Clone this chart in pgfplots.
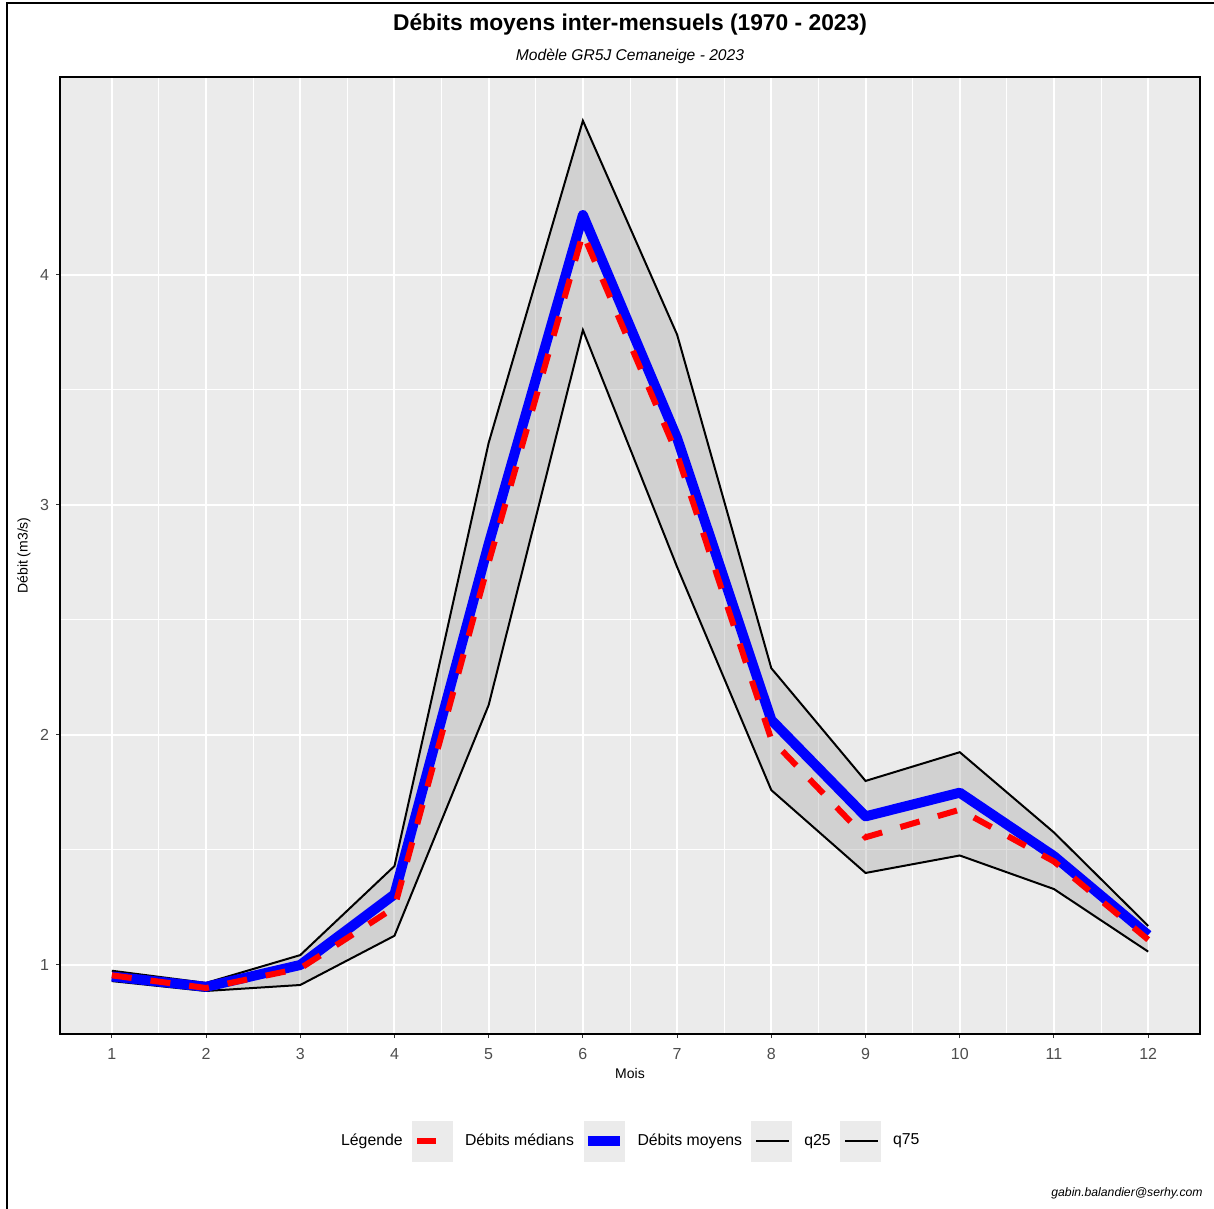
\documentclass[border=0pt]{standalone}
\usepackage{fontspec}
\setmainfont{Liberation Sans}
\usepackage{pgfplots}
\pgfplotsset{compat=1.18}
\usepgfplotslibrary{fillbetween}
\usepackage{pgfplotstable}

\definecolor{panelbg}{HTML}{EBEBEB}
\definecolor{labgrey}{HTML}{4D4D4D}
\definecolor{tickgrey}{HTML}{333333}
\definecolor{ribbongrey}{HTML}{969696}

% débits mensuels (m3/s)
\pgfplotstableread{
mois q25   q75   med   moy
1    0.930 0.975 0.955 0.950
2    0.887 0.922 0.900 0.905
3    0.913 1.043 0.985 1.000
4    1.127 1.430 1.250 1.307
5    2.130 3.270 2.750 2.830
6    3.760 4.670 4.180 4.260
7    2.730 3.740 3.220 3.290
8    1.760 2.290 1.980 2.065
9    1.400 1.800 1.555 1.646
10   1.476 1.925 1.675 1.749
11   1.330 1.576 1.450 1.473
12   1.058 1.170 1.110 1.130
}\debits

\begin{document}
\begin{tikzpicture}
\begin{axis}[
  at={(0,0)}, anchor=south west,
  scale only axis, width=570bp, height=478.5bp,
  xmin=0.45, xmax=12.55, ymin=0.70, ymax=4.86,
  xtick={1,...,12}, ytick={1,2,3,4},
  minor x tick num=1, minor y tick num=1,
  grid=both,
  major grid style={white, line width=1bp},
  minor grid style={white, line width=0.5bp},
  axis background/.style={fill=panelbg},
  axis line style={black, line width=1.4bp},
  tick align=outside, tick pos=left,
  major tick length=2bp, minor tick length=0pt,
  tick style={tickgrey, line width=0.5bp},
  ticklabel style={font=\fontsize{8bp}{9bp}\selectfont, text=labgrey},
  xticklabel style={yshift=-1.5bp},
  /pgf/number format/assume math mode=true,
  xlabel={Mois}, ylabel={Débit (m3/s)},
  every axis x label/.style={at={(axis description cs:0.5,-0.0408)}, anchor=center,
    font=\fontsize{7bp}{8bp}\selectfont},
  every axis y label/.style={at={(axis description cs:-0.0316,0.5)}, rotate=90, anchor=center,
    font=\fontsize{7bp}{8bp}\selectfont},
  legend style={at={(axis description cs:0.4965,-0.1118)}, anchor=center,
    draw=none, fill=none, legend columns=5,
    font=\fontsize{7.9bp}{9.6bp}\selectfont,
    /tikz/every odd column/.append style={column sep=4.3bp},
    /tikz/every even column/.append style={column sep=2.5bp}},
]
% ruban q25 - q75
\addplot[draw=none, name path=lo, forget plot] table[x=mois, y=q25] {\debits};
\addplot[draw=none, name path=hi, forget plot] table[x=mois, y=q75] {\debits};
\addplot[fill=ribbongrey, fill opacity=0.3, draw=none, forget plot] fill between[of=hi and lo];
\addplot[black, line width=1bp, forget plot] table[x=mois, y=q25] {\debits};
\addplot[black, line width=1bp, forget plot] table[x=mois, y=q75] {\debits};
\addplot[blue, line width=5bp, line join=round, forget plot] table[x=mois, y=moy] {\debits};
\addplot[red, line width=3bp, dash pattern=on 10bp off 9.5bp, forget plot] table[x=mois, y=med] {\debits};

% légende
\addlegendimage{empty legend}
\addlegendentry{Légende}
\addlegendimage{legend image code/.code={
  \fill[panelbg] (0bp,-10bp) rectangle (20bp,10bp);
  \draw[red, line width=3bp, solid] (2.5bp,0bp) -- (12bp,0bp);}}
\addlegendentry{Débits médians}
\addlegendimage{legend image code/.code={
  \fill[panelbg] (0bp,-10bp) rectangle (20bp,10bp);
  \draw[blue, line width=5bp, solid] (2bp,0bp) -- (18bp,0bp);}}
\addlegendentry{Débits moyens}
\addlegendimage{legend image code/.code={
  \fill[panelbg] (0bp,-10bp) rectangle (20bp,10bp);
  \draw[black, line width=1bp, solid] (2.5bp,0bp) -- (19bp,0bp);}}
\addlegendentry{q25}
\addlegendimage{legend image code/.code={
  \fill[panelbg] (0bp,-10bp) rectangle (20bp,10bp);
  \draw[black, line width=1bp, solid] (2.5bp,0bp) -- (19bp,0bp);}}
\addlegendentry{q75}
\end{axis}

\node[font=\bfseries\fontsize{11.4bp}{13bp}\selectfont] at (285bp,504.5bp)
  {Débits moyens inter-mensuels (1970 - 2023)};
\node[font=\itshape\fontsize{7.8bp}{9bp}\selectfont] at (285bp,489bp)
  {Modèle GR5J Cemaneige - 2023};
\node[font=\itshape\fontsize{6.1bp}{7bp}\selectfont, anchor=east, inner sep=0pt] at (571.5bp,-79.5bp)
  {gabin.balandier@serhy.com};
\draw[black, line width=1bp] (-26.5bp,-87.5bp) -- (-26.5bp,515.5bp) -- (577bp,515.5bp);
\pgfresetboundingbox
\useasboundingbox (-30bp,-87.5bp) rectangle (577bp,517bp);
\end{tikzpicture}
\end{document}
